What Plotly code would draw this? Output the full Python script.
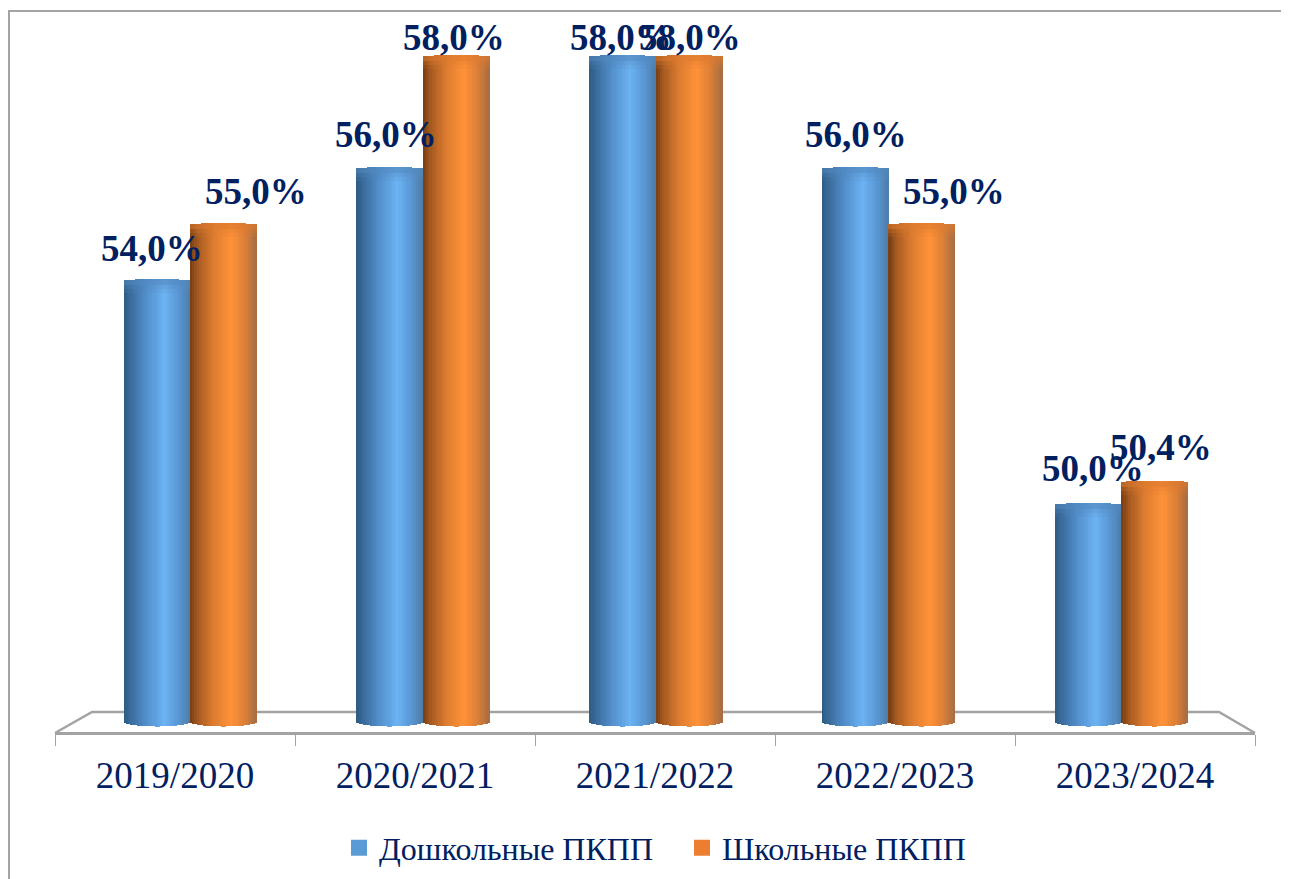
import plotly.graph_objects as go

# ---- data ----
categories = ["2019/2020", "2020/2021", "2021/2022", "2022/2023", "2023/2024"]
series_names = ["Дошкольные ПКПП", "Школьные ПКПП"]
preschool = [54.0, 56.0, 58.0, 56.0, 50.0]
school = [55.0, 58.0, 58.0, 55.0, 50.4]

# ---- styling ----
TEXT = "#002060"
GREY = "#a3a3a3"
FONT = "Liberation Serif"
legend_colors = ["#5b9bd5", "#ed7d31"]
blue_stops = [(0, "#2e5a80"), (.12, "#3b6e9f"), (.35, "#5390cd"), (.62, "#6cb3f3"), (.82, "#5a97d4"), (1, "#4d7da8")]
orange_stops = [(0, "#753c12"), (.12, "#a65a20"), (.35, "#dd7c30"), (.62, "#ff9238"), (.82, "#dc8038"), (1, "#a66c44")]
cap_colors = ["#5288bf", "#dd7a2e"]
# label offsets from the bar centre, in px (the source chart's labels do not sit centred)
label_dx = [[-5, -4, -1, 1, 5], [33, -2, 1, 32, 7]]
label_dy = [[10, 12, -3, 12, 14], [11, -3, -3, 11, 13]]

# ---- page geometry (the page body has an 8px margin) ----
W, H, O = 1290, 871, 8
PL, PR, PT, PB = 55, 1255, 10, 732      # plot area in screen px
BAR_STEP = 232.8                        # px between bar groups (perspective)
BAR_X0 = 190.0                          # screen x of first group's centre
BAR_W = 66.5 / BAR_STEP
PX_PER_UNIT = 56.0
Y58 = 57.0                              # screen y of value 58


def val(y_px):
    return 58 - (y_px - Y58) / PX_PER_UNIT


def hex2rgb(h):
    return tuple(int(h[i:i + 2], 16) for i in (1, 3, 5))


def ramp(stops, t):
    for (a, ca), (b, cb) in zip(stops, stops[1:]):
        if t <= b:
            f = (t - a) / (b - a)
            ra, rb = hex2rgb(ca), hex2rgb(cb)
            return tuple(ra[k] + (rb[k] - ra[k]) * f for k in range(3))
    return hex2rgb(stops[-1][1])


def css(c):
    return "rgb(%d,%d,%d)" % tuple(round(v) for v in c)


def mix(c1, c2, f):
    return tuple(c1[k] + (c2[k] - c1[k]) * f for k in range(3))


N = 30
fig = go.Figure()


def cylinder(values, stops, cap, side):
    xs, ys, bases, widths, offs, cols = [], [], [], [], [], []
    cx, cy, cb, cc = [], [], [], []
    for i, v in enumerate(values):
        for s in range(N):
            t = (s + .5) / N
            bulge = (1 - (2 * t - 1) ** 2) ** .5
            top = v + 2.0 * bulge / PX_PER_UNIT
            base = val(722 + 4.5 * bulge)
            xs.append(i)
            ys.append(top - base)
            bases.append(base)
            widths.append(BAR_W / N * 1.25)
            offs.append((side + s / N) * BAR_W)
            col = ramp(stops, t)
            cols.append(css(col))
            for frac, depth in ((.65, 4), (.35, 8), (.15, 12)):
                cx.append(i)
                cap_h = (depth + 2 * bulge) / PX_PER_UNIT
                cy.append(cap_h)
                cb.append(top - cap_h)
                cc.append(css(mix(col, hex2rgb(cap), frac)))
    bar_common = dict(xaxis="x2", yaxis="y", hoverinfo="skip", showlegend=False)
    fig.add_bar(x=xs, y=ys, base=bases, width=widths, offset=offs,
                marker=dict(color=cols, line=dict(width=0)), **bar_common)
    # shaded top of the cylinder: paint the deepest layer first
    k = len(cx)
    order = sorted(range(k), key=lambda j: -cy[j])
    fig.add_bar(x=[cx[j] for j in order], y=[cy[j] for j in order], base=[cb[j] for j in order],
                width=[widths[j // 3] for j in order], offset=[offs[j // 3] for j in order],
                marker=dict(color=[cc[j] for j in order], line=dict(width=0)), **bar_common)


cylinder(preschool, blue_stops, cap_colors[0], -1)
cylinder(school, orange_stops, cap_colors[1], 0)

# legend entries
for name, c in zip(series_names, legend_colors):
    fig.add_scatter(x=[None], y=[None], mode="markers", name=name, xaxis="x", yaxis="y",
                    marker=dict(symbol="square", size=16, color=c), hoverinfo="skip")

# data labels
for s, (values, side) in enumerate(((preschool, -.5), (school, .5))):
    for i, v in enumerate(values):
        fig.add_annotation(x=i + side * BAR_W, y=v, xref="x2", yref="y",
                           text="<b>" + f"{v:.1f}".replace(".", ",") + "%</b>",
                           showarrow=False, xanchor="center", yanchor="bottom",
                           xshift=label_dx[s][i], yshift=label_dy[s][i],
                           font=dict(family=FONT, size=37, color=TEXT))


def px(x):
    return (x - PL) / (PR - PL)


def py(y):
    return (PB - y) / (PB - PT)


line = dict(color=GREY, width=2)
# outer frame (top and left only are visible) and the chart floor
shapes = [
    dict(type="line", xref="paper", yref="paper", x0=px(8), x1=px(1300), y0=py(11), y1=py(11), line=line, layer="below"),
    dict(type="line", xref="paper", yref="paper", x0=px(9), x1=px(9), y0=py(11), y1=py(890), line=line, layer="below"),
    dict(type="path", xref="paper", yref="paper", layer="below", line=dict(color=GREY, width=2.5),
         path=f"M {px(55)} {py(733)} L {px(92)} {py(712)} L {px(1219)} {py(712)} L {px(1255)} {py(733)}"),
]

fig.update_layout(
    width=W, height=H, autosize=False,
    margin=dict(l=PL - O, r=W - (PR - O), t=PT - O, b=H - (PB - O), pad=0),
    paper_bgcolor="white", plot_bgcolor="white",
    barmode="overlay", bargap=0,
    shapes=shapes,
    font=dict(family=FONT, color=TEXT),
    xaxis=dict(type="category", categoryorder="array", categoryarray=categories,
               tickvals=categories, ticktext=categories, range=[-.5, 4.5],
               tickson="boundaries", ticks="outside", ticklen=11, tickwidth=1, tickcolor=GREY,
               ticklabelstandoff=9,
               showline=True, linecolor=GREY, linewidth=2.5, showgrid=False, zeroline=False,
               tickfont=dict(family=FONT, size=37, color=TEXT), fixedrange=True),
    xaxis2=dict(overlaying="x", anchor="y", side="bottom", type="linear",
                range=[(PL - BAR_X0) / BAR_STEP, (PR - BAR_X0) / BAR_STEP],
                visible=False, fixedrange=True),
    yaxis=dict(range=[val(PB), val(PT)], visible=False, fixedrange=True),
    legend=dict(orientation="h", x=px(339), xanchor="left", y=py(848), yanchor="middle",
                font=dict(family=FONT, size=32, color=TEXT), bgcolor="rgba(0,0,0,0)",
                entrywidth=298, entrywidthmode="pixels", itemclick=False, itemdoubleclick=False),
)

# category labels need a trace on the category axis
fig.add_scatter(x=categories, y=[None] * len(categories), mode="markers", xaxis="x", yaxis="y",
                showlegend=False, hoverinfo="skip", marker=dict(opacity=0))

fig.write_html("out.html")
